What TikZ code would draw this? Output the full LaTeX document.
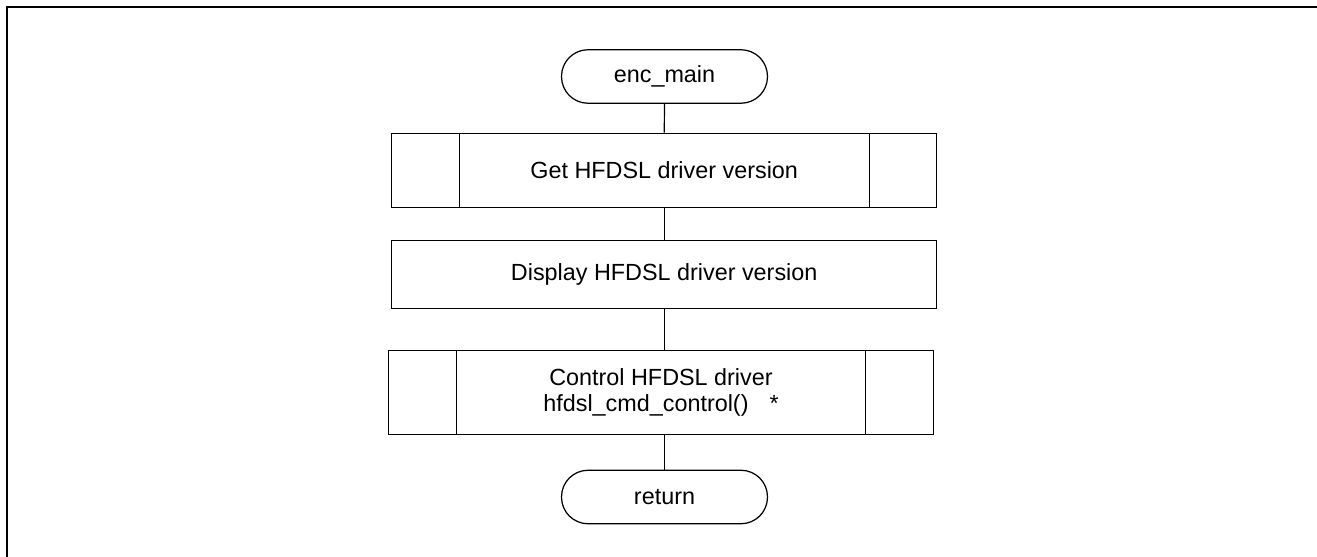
\documentclass[tikz,border=0pt]{standalone}
\usepackage{fontspec}
\setmainfont{Liberation Sans}
\usepackage{tikz}
\usetikzlibrary{positioning}
\usetikzlibrary{calc}
\tikzstyle{term}=[draw,rectangle,rounded corners=0.53cm,minimum width=4.12cm,minimum height=1.07cm,inner sep=1pt]
\tikzstyle{proc}=[draw,rectangle,minimum width=10.9cm,inner sep=1pt,align=center]
\tikzstyle{frame}=[line width=1.2pt]

\begin{document}
\begin{tikzpicture}[x=0.02cm,y=-0.02cm,line width=0.7pt,font=\fontsize{13.3}{15.3}\selectfont]
\useasboundingbox (0,0) rectangle (1317,557);
\draw[frame] (1317,7) -- (7,7) -- (7,557);

\node [term] (start) at (664.5,76.5) {enc\_main};
\node [proc,minimum height=1.49cm] (getver) at (664.2,170.4) {Get HFDSL driver version};
\node [proc,minimum height=1.36cm] (dispver) at (664.2,274.6) {Display HFDSL driver version};
\node [proc,minimum height=1.67cm,minimum width=10.89cm] (ctrl) at (661,392.4)
  {Control HFDSL driver\\hfdsl\_cmd\_control()\hspace{0.42cm}*};
\node [term] (ret) at (664.5,497) {return};

% sub-process side bars
\draw ([xshift=1.36cm]getver.north west) -- ([xshift=1.36cm]getver.south west);
\draw ([xshift=-1.36cm]getver.north east) -- ([xshift=-1.36cm]getver.south east);
\draw ([xshift=1.36cm]ctrl.north west) -- ([xshift=1.36cm]ctrl.south west);
\draw ([xshift=-1.36cm]ctrl.north east) -- ([xshift=-1.36cm]ctrl.south east);

\draw (start) -- (getver);
\draw (getver) -- (dispver);
\draw (dispver) -- (dispver |- ctrl.north);
\draw (ret.north |- ctrl.south) -- (ret);
\end{tikzpicture}
\end{document}
